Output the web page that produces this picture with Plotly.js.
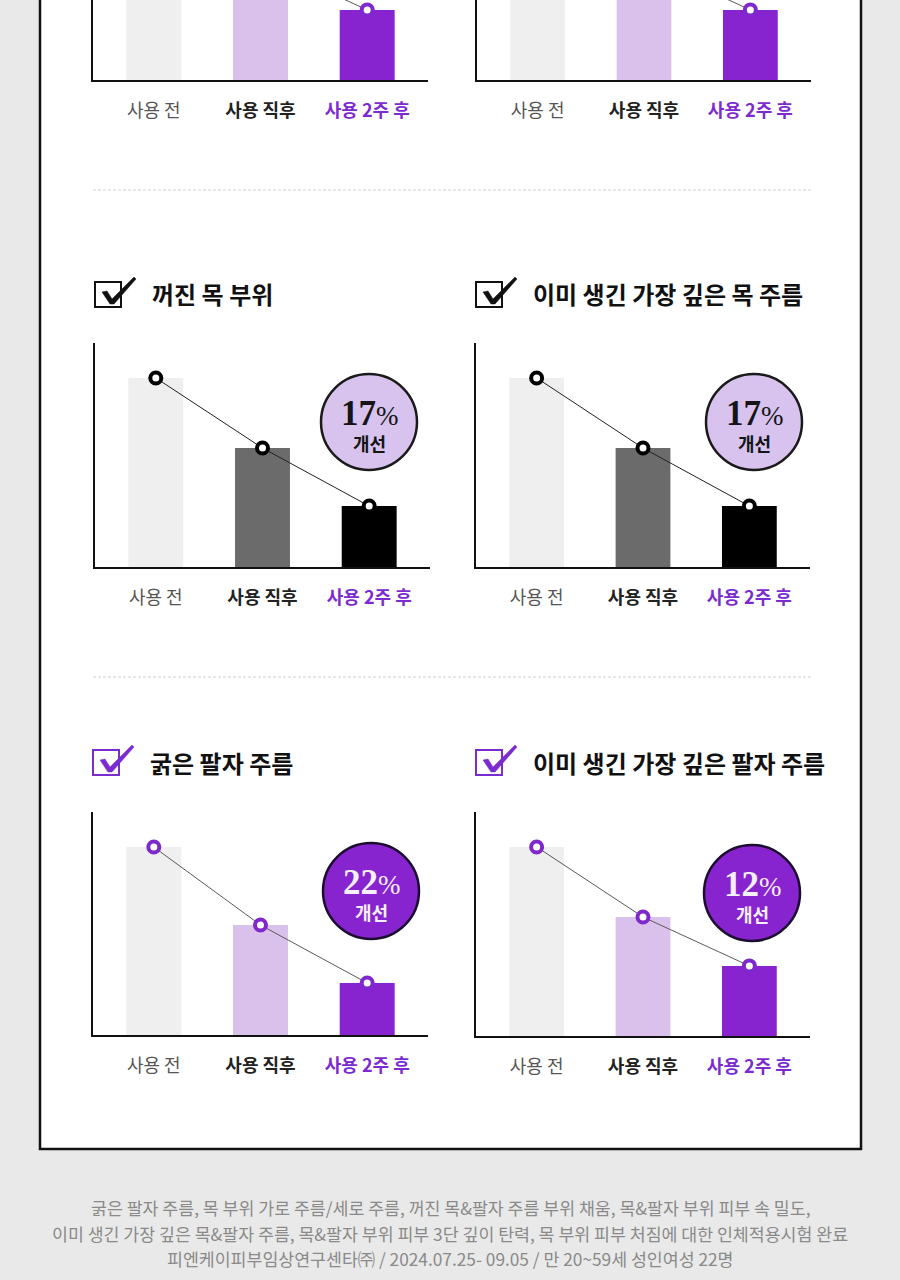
<!DOCTYPE html>
<html>
<head>
<meta charset="utf-8">
<script src="https://cdn.plot.ly/plotly-3.0.1.min.js"></script>
<style>
html,body{margin:0;padding:0;background:#e9e9e9;}
#chart{width:900px;height:1280px;}
</style>
</head>
<body>
<div id="chart"></div>
<script>
// ---------- data ----------
const categories = ['사용 전', '사용 직후', '사용 2주 후'];
const tickLabels = [
  '사용 전',
  '<b><span style="color:#222222">사용 직후</span></b>',
  '<b><span style="color:#7b2bd0">사용 2주 후</span></b>'
];
const topLeftValues = [84.4, 53.1, 31.3];
const topRightValues = [84.4, 53.1, 31.3];
const sunkenNeckValues = [84.4, 53.1, 27.2];
const deepNeckValues = [84.4, 53.1, 27.2];
const nasolabialValues = [83.9, 49.1, 23.2];
const deepNasolabialValues = [84.4, 53.1, 31.3];
const chartTitles = ['', '', '꺼진 목 부위', '이미 생긴 가장 깊은 목 주름', '굵은 팔자 주름', '이미 생긴 가장 깊은 팔자 주름'];
const improvementPct = ['', '', '17', '17', '22', '12'];
const improvementLabel = '개선';
const footerLines = [
  '굵은 팔자 주름, 목 부위 가로 주름/세로 주름, 꺼진 목&팔자 주름 부위 채움, 목&팔자 부위 피부 속 밀도,',
  '이미 생긴 가장 깊은 목&팔자 주름, 목&팔자 부위 피부 3단 깊이 탄력, 목 부위 피부 처짐에 대한 인체적용시험 완료',
  '피엔케이피부임상연구센타㈜ / 2024.07.25- 09.05 / 만 20~59세 성인여성 22명'
];
const seriesList = [topLeftValues, topRightValues, sunkenNeckValues, deepNeckValues, nasolabialValues, deepNasolabialValues];

// ---------- layout helpers ----------
const W = 900, H = 1280;
const PX_PER_UNIT = 2.24;
const fx = x => x / W;
const fy = y => 1 - y / H;

const themes = {
  purple: {bars: ['#efefef', '#d9c1ec', '#8724d0'], ring: '#7f28cc', line: '#5a5a5a',
           circleFill: '#8724d0', circleLine: '#1c0c2e', circleText: '#f6effd', check: '#7b2bd0'},
  dark: {bars: ['#efefef', '#6b6b6b', '#000000'], ring: '#000000', line: '#222222',
         circleFill: '#d8c3ee', circleLine: '#1a1a1a', circleText: '#151515', check: '#111111'}
};

const panels = [
  {x0: 93, x1: 428, top: 0, base: 80, theme: 'purple'},
  {x0: 477, x1: 811, top: 0, base: 80, theme: 'purple'},
  {x0: 95, x1: 430, top: 343, base: 567, theme: 'dark', titleY: 293, box: [95, 282], circle: [369, 422]},
  {x0: 476, x1: 810, top: 343, base: 567, theme: 'dark', titleY: 293, box: [476, 282], circle: [754, 422]},
  {x0: 93, x1: 428, top: 812, base: 1035, theme: 'purple', titleY: 762, box: [93, 750], circle: [371, 891]},
  {x0: 476, x1: 810, top: 812, base: 1036, theme: 'purple', titleY: 762, box: [476, 750], circle: [752, 893]}
];

const traces = [];
const layout = {
  width: W, height: H,
  margin: {l: 0, r: 0, t: 0, b: 0},
  paper_bgcolor: '#e9e9e9',
  plot_bgcolor: 'rgba(0,0,0,0)',
  showlegend: false,
  font: {family: '"Noto Sans CJK KR", "Noto Sans", sans-serif'},
  shapes: [],
  annotations: []
};

// white panel with black border
layout.shapes.push({type: 'rect', xref: 'paper', yref: 'paper', layer: 'below',
  x0: fx(40), x1: fx(861), y0: fy(1149), y1: fy(-20),
  fillcolor: '#ffffff', line: {color: '#111111', width: 2.5}});
// dashed separators
[190, 677].forEach(y => layout.shapes.push({type: 'line', xref: 'paper', yref: 'paper', layer: 'below',
  x0: fx(93), x1: fx(811), y0: fy(y), y1: fy(y), line: {color: '#cfcfcf', width: 1, dash: '3px,2px'}}));

panels.forEach((p, i) => {
  const n = i === 0 ? '' : String(i + 1);
  const xa = 'x' + n, ya = 'y' + n;
  const th = themes[p.theme];
  const vals = seriesList[i];
  traces.push({
    type: 'bar', x: categories, y: vals, xaxis: xa, yaxis: ya,
    width: 0.515, marker: {color: th.bars, line: {width: 0}}, hoverinfo: 'skip'
  });
  traces.push({
    type: 'scatter', mode: 'lines+markers', x: categories, y: vals, xaxis: xa, yaxis: ya,
    line: {color: th.line, width: 1},
    marker: {symbol: 'circle', size: 11, color: '#ffffff', line: {color: th.ring, width: 4}},
    hoverinfo: 'skip'
  });
  layout['xaxis' + n] = {
    domain: [fx(p.x0), fx(p.x1)], anchor: ya, type: 'category',
    range: [-0.57, 2.57], showgrid: false, zeroline: false,
    showline: true, linecolor: '#111111', linewidth: 2,
    ticks: '', tickmode: 'array', tickvals: categories, ticktext: tickLabels,
    tickfont: {family: '"Noto Sans CJK KR", sans-serif', size: 18, color: '#555555'},
    ticklabelstandoff: 13, fixedrange: true
  };
  layout['yaxis' + n] = {
    domain: [fy(p.base), Math.min(1, fy(p.top))], anchor: xa,
    range: [0, (p.base - p.top) / PX_PER_UNIT], showgrid: false, zeroline: false,
    showline: true, linecolor: '#111111', linewidth: 2,
    showticklabels: false, ticks: '', fixedrange: true
  };
  if (chartTitles[i]) {
    layout.annotations.push({xref: 'paper', yref: 'paper', x: fx(150 + (p.box[0] - 95)), y: fy(p.titleY),
      xanchor: 'left', yanchor: 'middle', showarrow: false, text: '<b>' + chartTitles[i] + '</b>',
      font: {family: '"Noto Sans CJK KR", sans-serif', size: 24, color: '#111111'}});
    const bx = p.box[0], by = p.box[1];
    layout.shapes.push({type: 'rect', xref: 'paper', yref: 'paper',
      x0: fx(bx), x1: fx(bx + 26), y0: fy(by + 25), y1: fy(by),
      line: {color: th.check, width: 2}, fillcolor: 'rgba(0,0,0,0)'});
    const pts = [[7, 10], [12, 9], [17, 17], [39, -5], [41, -3], [19, 22], [15, 22]];
    const path = 'M ' + pts.map(q => fx(bx + q[0]) + ',' + fy(by + q[1])).join(' L ') + ' Z';
    layout.shapes.push({type: 'path', xref: 'paper', yref: 'paper', path: path,
      fillcolor: th.check, line: {color: th.check, width: 0.5}});
  }
  if (improvementPct[i]) {
    const cx = p.circle[0], cy = p.circle[1], r = 48;
    layout.shapes.push({type: 'circle', xref: 'paper', yref: 'paper',
      x0: fx(cx - r), x1: fx(cx + r), y0: fy(cy + r), y1: fy(cy - r),
      fillcolor: th.circleFill, line: {color: th.circleLine, width: 2.5}});
    layout.annotations.push({xref: 'paper', yref: 'paper', x: fx(cx + 1), y: fy(cy - 9),
      xanchor: 'center', yanchor: 'middle', showarrow: false,
      text: '<b>' + improvementPct[i] + '</b><span style="font-size:27px">%</span>',
      font: {family: '"Liberation Serif", "DejaVu Serif", serif', size: 35, color: th.circleText}});
    layout.annotations.push({xref: 'paper', yref: 'paper', x: fx(cx), y: fy(cy + 21),
      xanchor: 'center', yanchor: 'middle', showarrow: false, text: '<b>' + improvementLabel + '</b>',
      font: {family: '"Noto Sans CJK KR", sans-serif', size: 18, color: th.circleText}});
  }
});

[1207, 1233, 1258].forEach((y, k) => layout.annotations.push({
  xref: 'paper', yref: 'paper', x: 0.5, y: fy(y), xanchor: 'center', yanchor: 'middle',
  showarrow: false, text: footerLines[k],
  font: {family: '"Noto Sans CJK KR", sans-serif', size: 17.3, color: '#8a8a8a'}
}));

Plotly.newPlot('chart', traces, layout, {displayModeBar: false, staticPlot: true});
</script>
</body>
</html>
